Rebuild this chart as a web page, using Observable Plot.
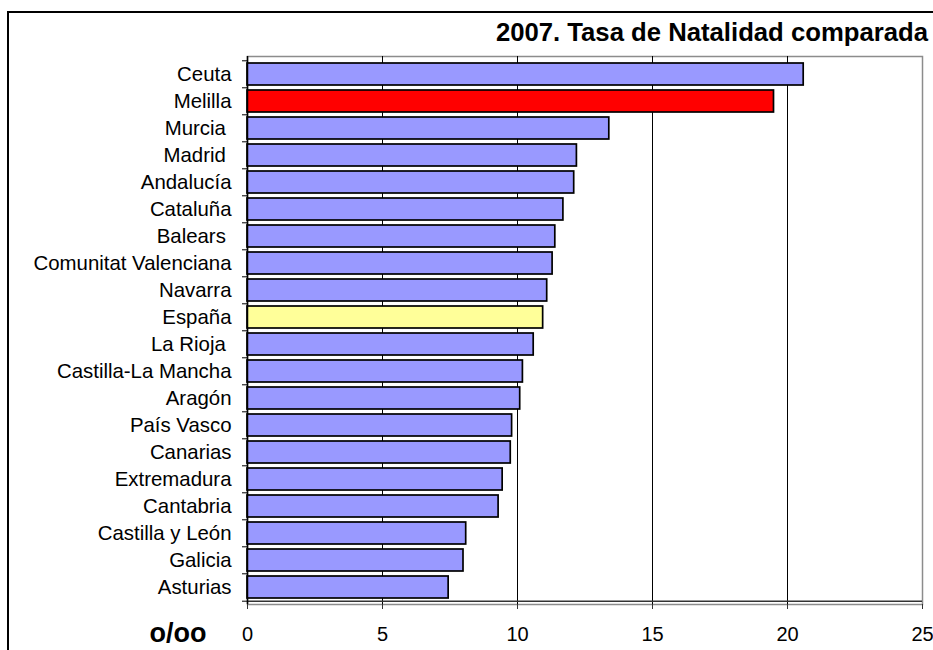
<!DOCTYPE html>
<html><head><meta charset="utf-8">
<script src="https://cdn.jsdelivr.net/npm/d3@7"></script>
<script src="https://cdn.jsdelivr.net/npm/@observablehq/plot@0.6"></script>
<style>
html,body{margin:0;padding:0;background:#fff;}
#wrap{position:relative;width:933px;height:650px;overflow:hidden;font-family:"Liberation Sans",Arial,sans-serif;color:#000;}
#chart{position:absolute;left:0;top:0;}
#frame{position:absolute;left:7px;top:11px;width:960px;height:700px;border-left:2px solid #000;border-top:2px solid #000;pointer-events:none;}
#title{position:absolute;right:5px;top:19px;font-weight:bold;font-size:25.7px;line-height:26px;white-space:nowrap;}
#unit{position:absolute;left:178px;top:633px;transform:translate(-50%,-50%);font-weight:bold;font-size:27px;line-height:27px;white-space:nowrap;}
</style></head>
<body><div id="wrap"><div id="chart"></div><div id="frame"></div><div id="title"></div><div id="unit"></div></div>
<script>
const titleText = "2007. Tasa de Natalidad comparada";
const unitLabel = "o/oo";
const regions = ["Ceuta", "Melilla", "Murcia ", "Madrid ", "Andalucía", "Cataluña", "Balears ",
  "Comunitat Valenciana", "Navarra", "España", "La Rioja ", "Castilla-La Mancha", "Aragón",
  "País Vasco", "Canarias", "Extremadura", "Cantabria", "Castilla y León", "Galicia", "Asturias"];
const rates = [20.6, 19.5, 13.4, 12.2, 12.1, 11.7, 11.4,
  11.3, 11.1, 10.95, 10.6, 10.2, 10.1,
  9.8, 9.75, 9.45, 9.3, 8.1, 8.0, 7.45];
const groupDomain = ["Comunidad", "Melilla", "España"];
const groupColors = ["#9999ff", "#ff0000", "#ffff99"];
const xTicks = [0, 5, 10, 15, 20, 25];
const gridTicks = [5, 10, 15, 20];

const rows = regions.map((r, i) => ({
  region: r,
  rate: rates[i],
  group: r.trim() === "Melilla" ? "Melilla" : r.trim() === "España" ? "España" : "Comunidad"
}));

const W = 933, H = 650, MT = 56, MB = 46, ML = 247, MR = 11;
const step = (H - MT - MB) / regions.length;
const label = (d) => d.replace(/ $/, "\u00a0");
const last = regions[regions.length - 1];

const chart = Plot.plot({
  width: W, height: H,
  marginTop: MT, marginBottom: MB, marginLeft: ML, marginRight: MR,
  style: {fontFamily: '"Liberation Sans", Arial, sans-serif', fontSize: "20px", color: "#000", background: "transparent", overflow: "visible"},
  x: {domain: [0, 25], axis: null, label: null},
  y: {domain: regions, paddingInner: 0.2, paddingOuter: 0.1, axis: null, label: null},
  color: {domain: groupDomain, range: groupColors},
  marks: [
    Plot.frame({stroke: "#8c8c8c", strokeWidth: 1.5}),
    Plot.gridX(gridTicks, {stroke: "#000", strokeOpacity: 1, strokeWidth: 1}),
    Plot.barX(rows, {x: "rate", y: "region", fill: "group", stroke: "#000", strokeWidth: 1.7}),
    Plot.ruleY([last], {dy: step / 2, stroke: "#333", strokeWidth: 1.5}),
    Plot.ruleX([0], {stroke: "#000", strokeWidth: 1.5}),
    Plot.axisX(xTicks, {tickSize: 5, tickPadding: 17, stroke: "#333", fontSize: 20, label: null}),
    Plot.axisY({tickSize: 0, tickPadding: 16, tickFormat: label, fontSize: 20.4, label: null}),
    Plot.axisY({tickSize: 5, tickFormat: () => "", dy: -step / 2, stroke: "#000", label: null}),
    Plot.axisY([last], {tickSize: 5, tickFormat: () => "", dy: step / 2, stroke: "#000", label: null})
  ]
});
document.getElementById("chart").appendChild(chart);
document.getElementById("title").textContent = titleText;
document.getElementById("unit").textContent = unitLabel;
</script>
</body></html>
